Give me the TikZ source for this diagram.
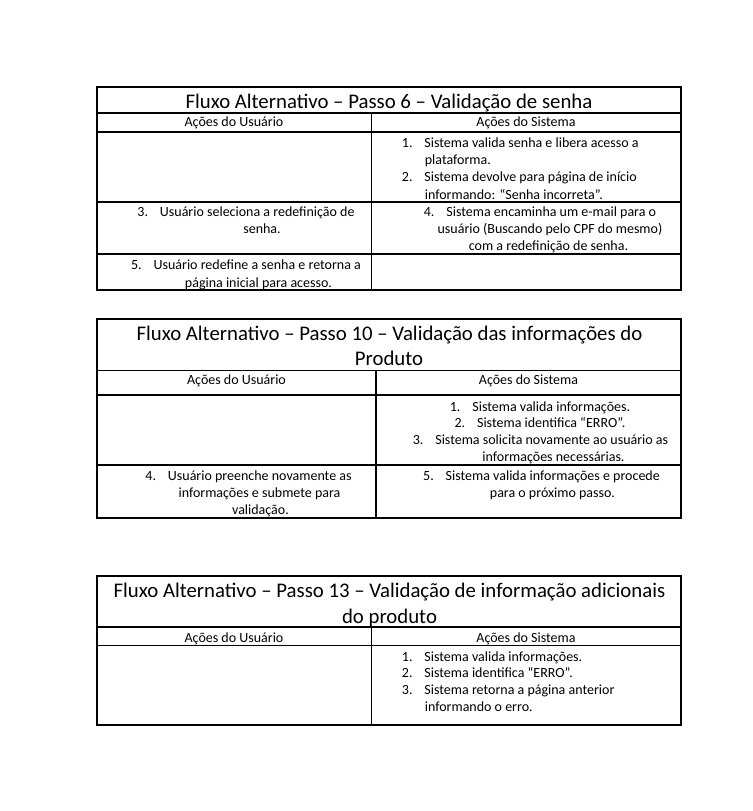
\documentclass[tikz,border=0pt]{standalone}
\usepackage{fontspec}
\setmainfont{Carlito}
\newcommand{\numbox}[1]{\makebox[16.9pt][l]{#1}}
\begin{document}
\begin{tikzpicture}[x=0.75pt,y=-0.75pt,
  grid/.style={line width=0.8pt, draw=black},
  body/.style={anchor=base, inner sep=0pt, font=\fontsize{10.5}{12}\selectfont},
  bodyl/.style={body, anchor=base west},
  ttl/.style={anchor=base, inner sep=0pt, font=\fontsize{15.6}{18}\selectfont}]
\useasboundingbox[fill=white] (0,0) rectangle (753,811);

% ---------- Table 1 ----------
\draw[grid] (97,87) rectangle (681,290);
\draw[grid] (97,113) -- (681,113);
\draw[grid] (97,132) -- (681,132);
\draw[grid] (97,202) -- (681,202);
\draw[grid] (97,254) -- (681,254);
\draw[grid] (371.5,113) -- (371.5,290);
\node[ttl] (t1title) at (389,108.2) {Fluxo Alternativo – Passo 6 – Validação de senha};
\node[body] (t1hu) at (234,126.8) {Ações do Usuário};
\node[body] (t1hs) at (526,126.8) {Ações do Sistema};
\node[bodyl] (t1s1a) at (401.7,147.8) {\numbox{1.}Sistema valida senha e libera acesso a};
\node[bodyl] (t1s1b) at (424.6,164.5) {plataforma.};
\node[bodyl] (t1s2a) at (401.7,181.8) {\numbox{2.}Sistema devolve para página de início};
\node[bodyl] (t1s2b) at (424.6,199.5) {informando: “Senha incorreta”.};
\node[body] (t1u3a) at (246,216.8) {\numbox{3.}Usuário seleciona a redefinição de};
\node[body] (t1u3b) at (262,233.5) {senha.};
\node[body] (t1s4a) at (540,216.8) {\numbox{4.}Sistema encaminha um e-mail para o};
\node[body] (t1s4b) at (550,233.5) {usuário (Buscando pelo CPF do mesmo)};
\node[body] (t1s4c) at (548.5,250.2) {com a redefinição de senha.};
\node[body] (t1u5a) at (246,269.5) {\numbox{5.}Usuário redefine a senha e retorna a};
\node[body] (t1u5b) at (258.5,287.2) {página inicial para acesso.};

% ---------- Table 2 ----------
\draw[grid] (97,319) rectangle (681,518);
\draw[grid] (97,370.5) -- (681,370.5);
\draw[grid] (97,395) -- (681,395);
\draw[grid] (97,465) -- (681,465);
\draw[grid] (376,370.5) -- (376,518);
\node[ttl] (t2titlea) at (389.5,340.5) {Fluxo Alternativo – Passo 10 – Validação das informações do};
\node[ttl] (t2titleb) at (389,365.5) {Produto};
\node[body] (t2hu) at (236.5,384.5) {Ações do Usuário};
\node[body] (t2hs) at (528.5,384.5) {Ações do Sistema};
\node[body] (t2s1) at (540,411.2) {\numbox{1.}Sistema valida informações.};
\node[body] (t2s2) at (540,427.8) {\numbox{2.}Sistema identifica “ERRO”.};
\node[body] (t2s3a) at (540.5,444.5) {\numbox{3.}Sistema solicita novamente ao usuário as};
\node[body] (t2s3b) at (553.5,461.2) {informações necessárias.};
\node[body] (t2u4a) at (248.5,480.2) {\numbox{4.}Usuário preenche novamente as};
\node[body] (t2u4b) at (259.5,497.2) {informações e submete para};
\node[body] (t2u4c) at (260.5,514.5) {validação.};
\node[body] (t2s5a) at (541.5,480.2) {\numbox{5.}Sistema valida informações e procede};
\node[body] (t2s5b) at (552.5,497.2) {para o próximo passo.};

% ---------- Table 3 ----------
\draw[grid] (97,576) rectangle (681,725);
\draw[grid] (97,627) -- (681,627);
\draw[grid] (97,645.7) -- (681,645.7);
\draw[grid] (371.5,627) -- (371.5,725);
\node[ttl] (t3titlea) at (389.5,597.2) {Fluxo Alternativo – Passo 13 – Validação de informação adicionais};
\node[ttl] (t3titleb) at (389.5,623.2) {do produto};
\node[body] (t3hu) at (234,642.2) {Ações do Usuário};
\node[body] (t3hs) at (526,642.2) {Ações do Sistema};
\node[bodyl] (t3s1) at (401.7,661.8) {\numbox{1.}Sistema valida informações.};
\node[bodyl] (t3s2) at (401.7,677.8) {\numbox{2.}Sistema identifica “ERRO”.};
\node[bodyl] (t3s3a) at (401.7,694.5) {\numbox{3.}Sistema retorna a página anterior};
\node[bodyl] (t3s3b) at (424.6,711.2) {informando o erro.};
\end{tikzpicture}
\end{document}
